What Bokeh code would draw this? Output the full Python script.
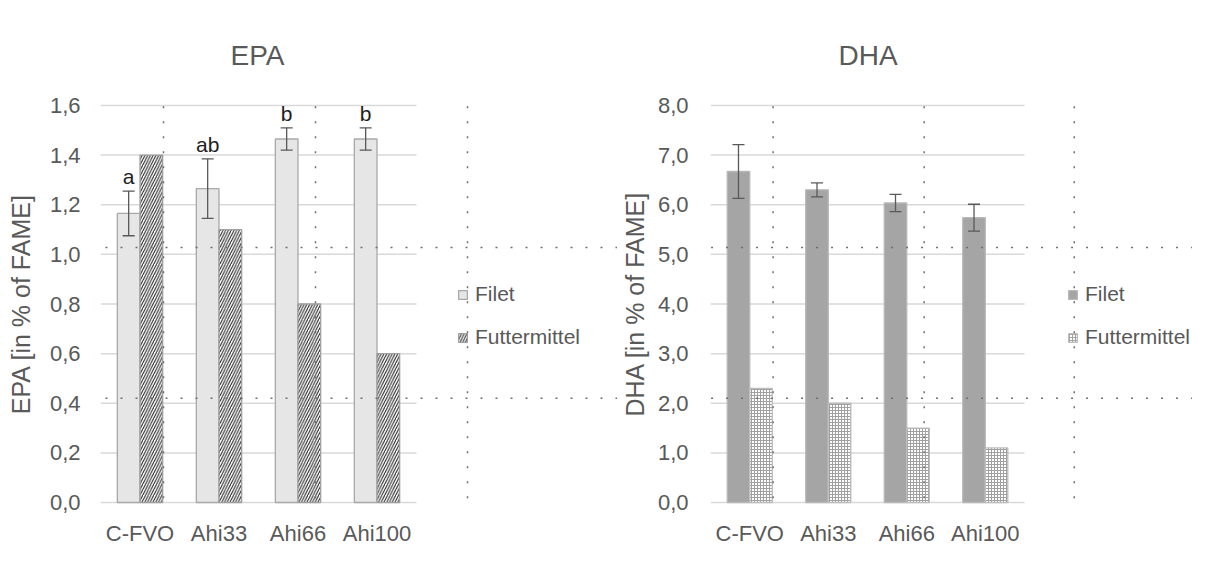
from bokeh.plotting import figure
from bokeh.models import (Range1d, ColumnDataSource, Whisker, TeeHead,
                          Legend, LegendItem, Arrow, FixedTicker)
from bokeh.transform import dodge
from bokeh.layouts import row
from bokeh.embed import file_html
from bokeh.resources import INLINE
from bokeh.core.properties import value

# ---------------- data ----------------
groups = ["C-FVO", "Ahi33", "Ahi66", "Ahi100"]

epa_filet = [1.165, 1.265, 1.465, 1.465]
epa_filet_err = [0.09, 0.12, 0.045, 0.045]
epa_feed = [1.40, 1.10, 0.80, 0.60]
epa_letters = ["a", "ab", "b", "b"]
epa_ticks = [0.0, 0.2, 0.4, 0.6, 0.8, 1.0, 1.2, 1.4, 1.6]
epa_tick_labels = ["0,0", "0,2", "0,4", "0,6", "0,8", "1,0", "1,2", "1,4", "1,6"]

dha_filet = [6.67, 6.30, 6.035, 5.74]
dha_filet_err = [0.54, 0.14, 0.175, 0.27]
dha_feed = [2.30, 2.00, 1.50, 1.10]
dha_letters = ["", "", "", ""]
dha_ticks = [0.0, 1.0, 2.0, 3.0, 4.0, 5.0, 6.0, 7.0, 8.0]
dha_tick_labels = ["0,0", "1,0", "2,0", "3,0", "4,0", "5,0", "6,0", "7,0", "8,0"]

series_labels = ["Filet", "Futtermittel"]

# spreadsheet dotted cell borders (page pixel positions)
dot_x = [11, 163, 315, 467, 618, 770, 922, 1073]
dot_y = [96, 248, 400, 552]

# ---------------- layout constants ----------------
FONT = "Liberation Sans"
TXT = "#595959"
H = 548
PAD = 2            # px of frame kept below 0 and above the top tick
PLOT_H = 400       # px between 0 and the top tick
BORDER_T = 103
FRAME_H = PLOT_H + 2 * PAD
BORDER_B = H - BORDER_T - FRAME_H
FRAME_W = 316      # px occupied by the four groups
BW = 0.287
OFF = 0.1435
N = len(groups)
xc = [i + 0.5 for i in range(N)]


def add_dots(p, page_x0, width, border_l, y0, y1):
    fl = page_x0 + border_l
    fb = BORDER_T + FRAME_H

    def dx(ix):
        return (ix - fl) / FRAME_W * N

    def dy(iy):
        return y0 + (fb - iy) / FRAME_H * (y1 - y0)

    kw = dict(end=None, line_color="#6e6e6e", line_width=1.5, line_dash="2 13")
    for ix in dot_x:
        if page_x0 <= ix < page_x0 + width:
            p.add_layout(Arrow(x_start=dx(ix), y_start=dy(0), x_end=dx(ix), y_end=dy(H), **kw))
    for iy in dot_y:
        p.add_layout(Arrow(x_start=dx(page_x0), y_start=dy(iy), x_end=dx(page_x0 + width),
                           y_end=dy(iy), **kw))


def make_chart(title, title_offset, ylabel, filet, err, feed, letters, ticks, tick_labels,
               ymax, width, page_x0, border_l, tick_standoff, label_standoff,
               filet_style, feed_style):
    x_end = N * (width - border_l) / FRAME_W
    y0 = -ymax * PAD / PLOT_H
    y1 = ymax + ymax * PAD / PLOT_H
    p = figure(x_range=Range1d(0, x_end), y_range=Range1d(y0, y1), width=width, height=H,
               output_backend="svg", toolbar_location=None,
               min_border_left=border_l, min_border_right=0,
               min_border_top=BORDER_T, min_border_bottom=BORDER_B)
    p.outline_line_color = None
    p.background_fill_color = "white"
    p.border_fill_color = "white"

    src = ColumnDataSource(dict(
        xc=xc, filet=filet, feed=feed,
        upper=[v + e for v, e in zip(filet, err)],
        lower=[v - e for v, e in zip(filet, err)],
        letters=letters))

    # horizontal value gridlines spanning only the group area
    p.xgrid.visible = False
    p.ygrid.visible = False
    p.segment(x0=[0] * len(ticks), y0=ticks, x1=[N] * len(ticks), y1=ticks,
              line_color="#d9d9d9", line_width=1.5, level="underlay")

    r1 = p.vbar(x=dodge("xc", -OFF), top="filet", width=BW, source=src, **filet_style)
    r2 = p.vbar(x=dodge("xc", OFF), top="feed", width=BW, source=src, **feed_style)

    head = dict(size=12, line_color="#595959", line_width=1.3)
    p.add_layout(Whisker(base=dodge("xc", -OFF), upper="upper", lower="lower",
                         source=src, line_color="#595959", line_width=1.3,
                         upper_head=TeeHead(**head), lower_head=TeeHead(**head),
                         level="annotation"))

    p.text(x=dodge("xc", -OFF), y="upper", text="letters", source=src,
           text_align="center", text_baseline="bottom", y_offset=-3,
           text_font=value(FONT), text_font_size="21px", text_color="#1e1e1e")

    # axes
    p.yaxis.ticker = FixedTicker(ticks=ticks)
    p.yaxis.major_label_overrides = dict(zip(ticks, tick_labels))
    p.xaxis.ticker = FixedTicker(ticks=xc)
    p.xaxis.major_label_overrides = dict(zip(xc, groups))

    for ax in (p.xaxis, p.yaxis):
        ax.axis_line_color = None
        ax.major_tick_line_color = None
        ax.minor_tick_line_color = None
        ax.major_tick_out = 0
        ax.major_tick_in = 0
        ax.major_label_text_font = FONT
        ax.major_label_text_font_size = "22px"
        ax.major_label_text_color = TXT
    p.yaxis.major_label_standoff = tick_standoff
    p.yaxis.axis_label = ylabel
    p.yaxis.axis_label_text_font = FONT
    p.yaxis.axis_label_text_font_size = "25px"
    p.yaxis.axis_label_text_font_style = "normal"
    p.yaxis.axis_label_text_color = TXT
    p.yaxis.axis_label_standoff = label_standoff
    p.xaxis.major_label_standoff = 16

    p.title.text = title
    p.title.align = "left"
    p.title.offset = title_offset
    p.title.standoff = 66
    p.title.text_font = FONT
    p.title.text_font_size = "28px"
    p.title.text_font_style = "normal"
    p.title.text_color = TXT

    legend = Legend(items=[LegendItem(label=series_labels[0], renderers=[r1]),
                           LegendItem(label=series_labels[1], renderers=[r2])],
                    location=(FRAME_W + 41, BORDER_T + FRAME_H - 352), margin=0, padding=0,
                    glyph_width=11, glyph_height=11, label_height=24, spacing=19,
                    label_standoff=7, border_line_color=None, background_fill_alpha=0,
                    label_text_font=FONT, label_text_font_size="21px",
                    label_text_color=TXT)
    p.add_layout(legend)

    add_dots(p, page_x0, width, border_l, y0, y1)
    return p


epa_filet_style = dict(fill_color="#e6e6e6", line_color="#a9a9a9", line_width=1.3)
epa_feed_style = dict(fill_color="white", line_color="#a0a0a0", line_width=1.3,
                      hatch_pattern="right_diagonal_line", hatch_color="#1a1a1a",
                      hatch_scale=5.5, hatch_weight=1)
dha_filet_style = dict(fill_color="#a5a5a5", line_color="#b8b8b8", line_width=1.3)
dha_feed_style = dict(fill_color="white", line_color="#bdbdbd", line_width=1.3,
                      hatch_pattern="cross", hatch_color="#a0a0a0",
                      hatch_scale=3, hatch_weight=1)

W1 = 617
W2 = 575
p1 = make_chart("EPA", 130, "EPA [in % of FAME]", epa_filet, epa_filet_err, epa_feed,
                epa_letters, epa_ticks, epa_tick_labels, 1.6, W1, 0, 100, 20, 12,
                epa_filet_style, epa_feed_style)
p2 = make_chart("DHA", 128, "DHA [in % of FAME]", dha_filet, dha_filet_err, dha_feed,
                dha_letters, dha_ticks, dha_tick_labels, 8.0, W2, W1, 90, 22, 6,
                dha_filet_style, dha_feed_style)

layout = row(p1, p2, spacing=0)
open("out.html", "w").write(file_html(layout, INLINE))
